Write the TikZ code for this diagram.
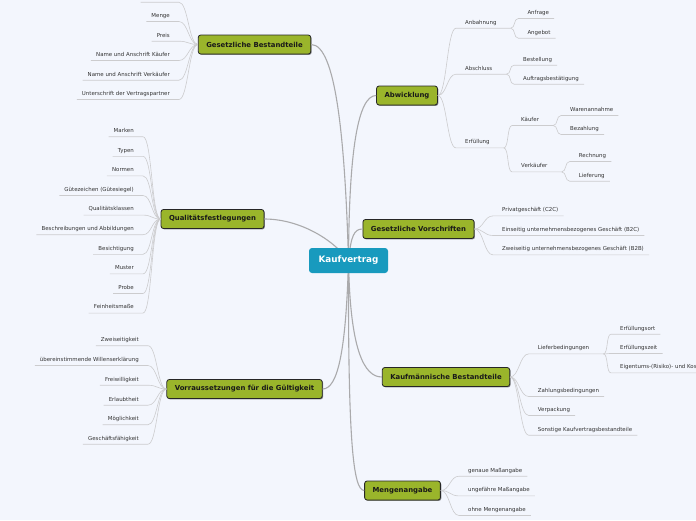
\documentclass[tikz,border=0pt]{standalone}
\usepackage{fontspec}
\setmainfont{DejaVu Sans}
\usetikzlibrary{shadows}
\definecolor{bgc}{RGB}{243,246,253}
\definecolor{mainfill}{RGB}{154,181,43}
\definecolor{centfill}{RGB}{24,154,190}
\definecolor{leaftext}{RGB}{50,50,50}
\definecolor{leafline}{RGB}{204,204,206}
\definecolor{mainline}{RGB}{170,170,172}
\tikzset{
  mainbox/.style={fill=mainfill, draw=black!85, line width=0.8pt, rounded corners=2.5pt,
    font=\fontsize{6.9}{8}\selectfont\bfseries, text=black!90, inner xsep=8pt, inner ysep=0pt,
    minimum height=19pt,
    drop shadow={shadow xshift=0.9pt, shadow yshift=-0.9pt, opacity=0.45, fill=black}},
  centbox/.style={fill=centfill, rounded corners=3pt, text=white,
    font=\fontsize{8.8}{10}\selectfont\bfseries, minimum width=79pt, minimum height=25pt, inner sep=0pt},
  leaf/.style={font=\fontsize{5.45}{6}\selectfont, text=leaftext, inner xsep=5pt, inner ysep=2.5pt,
    text height=4pt, text depth=1.5pt},
  lleaf/.style={leaf, anchor=base east},
  rleaf/.style={leaf, anchor=base west},
  lline/.style={draw=leafline, line width=0.6pt},
  mline/.style={draw=mainline, line width=1.1pt},
}
\newcommand\lconn[2]{\draw[lline] (#1.west) .. controls +(-9,0) and +(9,0) .. ([xshift=4pt]#2.south east) -- (#2.south west);}
\newcommand\rconn[2]{\draw[lline] (#1.east) .. controls +(9,0) and +(-9,0) .. ([xshift=-4pt]#2.south west) -- (#2.south east);}
\newcommand\rmid[2]{\draw[lline] (#1.east) .. controls +(9,0) and +(-9,0) .. ([xshift=-4pt]#2.south west) -- ([xshift=9pt]#2.south east);}
\newcommand\rsub[2]{\draw[lline] ([xshift=9pt]#1.south east) .. controls +(5,0) and +(-5,0) .. ([xshift=-4pt]#2.south west) -- (#2.south east);}
\begin{document}
\begin{tikzpicture}[x=1pt,y=1pt]
\fill[bgc] (0,0) rectangle (696,-520);
\useasboundingbox (0,0) rectangle (696,-520);

% main nodes
\node[mainbox] (gb) at (254.5,-44.5) {Gesetzliche Bestandteile};
\node[mainbox] (ab) at (407,-95.5) {Abwicklung};
\node[mainbox] (qf) at (212.5,-219) {Qualitätsfestlegungen};
\node[mainbox] (gv) at (418.5,-229) {Gesetzliche Vorschriften};
\node[mainbox] (vg) at (244.5,-389) {Vorraussetzungen für die Gültigkeit};
\node[mainbox] (kb) at (446,-377) {Kaufmännische Bestandteile};
\node[mainbox] (ma) at (402.5,-490.5) {Mengenangabe};

% Gesetzliche Bestandteile leaves
\node[lleaf, minimum width=34pt] (gb0) at (175,2) {};
\node[lleaf] (gb1) at (175,-17.3) {Menge};
\node[lleaf] (gb2) at (175,-37) {Preis};
\node[lleaf] (gb3) at (175,-56.3) {Name und Anschrift Käufer};
\node[lleaf] (gb4) at (175,-76) {Name und Anschrift Verkäufer};
\node[lleaf] (gb5) at (175,-95.3) {Unterschrift der Vertragspartner};
\foreach \i in {0,...,5} {\lconn{gb}{gb\i}}

% Qualitaetsfestlegungen leaves
\node[lleaf] (q1) at (139,-132.5) {Marken};
\node[lleaf] (q2) at (139,-152.1) {Typen};
\node[lleaf] (q3) at (139,-171.7) {Normen};
\node[lleaf] (q4) at (139,-191.3) {Gütezeichen (Gütesiegel)};
\node[lleaf] (q5) at (139,-210.9) {Qualitätsklassen};
\node[lleaf] (q6) at (139,-230.5) {Beschreibungen und Abbildungen};
\node[lleaf] (q7) at (139,-250.1) {Besichtigung};
\node[lleaf] (q8) at (139,-269.7) {Muster};
\node[lleaf] (q9) at (139,-289.3) {Probe};
\node[lleaf] (q10) at (139,-308.9) {Feinheitsmaße};
\foreach \i in {1,...,10} {\lconn{qf}{q\i}}

% Voraussetzungen leaves
\node[lleaf] (v1) at (144,-341.5) {Zweiseitigkeit};
\node[lleaf] (v2) at (144,-361.3) {übereinstimmende Willenserklärung};
\node[lleaf] (v3) at (144,-381) {Freiwilligkeit};
\node[lleaf] (v4) at (144,-401) {Erlaubtheit};
\node[lleaf] (v5) at (144,-420.5) {Möglichkeit};
\node[lleaf] (v6) at (144,-440) {Geschäftsfähigkeit};
\foreach \i in {1,...,6} {\lconn{vg}{v\i}}

% Abwicklung
\node[rleaf] (anb) at (460,-24) {Anbahnung};
\node[rleaf] (abs) at (460,-70) {Abschluss};
\node[rleaf] (erf) at (460,-143.7) {Erfüllung};
\rmid{ab}{anb}\rmid{ab}{abs}\rmid{ab}{erf}
\node[rleaf] (anf) at (522.3,-14.3) {Anfrage};
\node[rleaf] (ang) at (522.3,-34) {Angebot};
\rsub{anb}{anf}\rsub{anb}{ang}
\node[rleaf] (bes) at (518,-61) {Bestellung};
\node[rleaf] (auf) at (518,-80) {Auftragsbestätigung};
\rsub{abs}{bes}\rsub{abs}{auf}
\node[rleaf] (kae) at (516,-121.3) {Käufer};
\node[rleaf] (ver) at (516,-167.7) {Verkäufer};
\draw[lline] ([xshift=9pt]erf.south east) .. controls +(5,0) and +(-5,0) .. ([xshift=-4pt]kae.south west) -- ([xshift=9pt]kae.south east);
\draw[lline] ([xshift=9pt]erf.south east) .. controls +(5,0) and +(-5,0) .. ([xshift=-4pt]ver.south west) -- ([xshift=9pt]ver.south east);
\node[rleaf] (war) at (565,-111.3) {Warenannahme};
\node[rleaf] (bez) at (565,-130.3) {Bezahlung};
\rsub{kae}{war}\rsub{kae}{bez}
\node[rleaf] (rec) at (573.7,-157.3) {Rechnung};
\node[rleaf] (lie) at (573.7,-177) {Lieferung};
\rsub{ver}{rec}\rsub{ver}{lie}

% Gesetzliche Vorschriften
\node[rleaf] (g1) at (497,-211.7) {Privatgeschäft (C2C)};
\node[rleaf] (g2) at (497,-231.3) {Einseitig unternehmensbezogenes Geschäft (B2C)};
\node[rleaf] (g3) at (497,-250.7) {Zweiseitig unternehmensbezogenes Geschäft (B2B)};
\rconn{gv}{g1}\rconn{gv}{g2}\rconn{gv}{g3}

% Kaufmaennische Bestandteile
\node[rleaf] (k1) at (532.7,-349.7) {Lieferbedingungen};
\node[rleaf] (k2) at (532.7,-392.3) {Zahlungsbedingungen};
\node[rleaf] (k3) at (532.7,-411.3) {Verpackung};
\node[rleaf] (k4) at (532.7,-431) {Sonstige Kaufvertragsbestandteile};
\rmid{kb}{k1}\rconn{kb}{k2}\rconn{kb}{k3}\rconn{kb}{k4}
\node[rleaf] (l1) at (615,-330) {Erfüllungsort};
\node[rleaf] (l2) at (615,-349.3) {Erfüllungszeit};
\node[rleaf] (l3) at (615,-368.7) {Eigentums-(Risiko)- und Kos};
\rsub{k1}{l1}\rsub{k1}{l2}\rsub{k1}{l3}

% Mengenangabe
\node[rleaf] (m1) at (463,-472) {genaue Maßangabe};
\node[rleaf] (m2) at (463,-491.7) {ungefähre Maßangabe};
\node[rleaf] (m3) at (463,-511.3) {ohne Mengenangabe};
\rconn{ma}{m1}\rconn{ma}{m2}\rconn{ma}{m3}

% central connectors
\coordinate (k) at (348.5,-260.5);
\draw[mline] (k) .. controls (345,-140) and (336,-44.5) .. (gb.east);
\draw[mline] (k) .. controls (349,-150) and (358,-95.5) .. (ab.west);
\draw[mline] (k) .. controls (332,-238) and (298,-219) .. (qf.east);
\draw[mline] (k) .. controls (351,-236) and (354,-229) .. (gv.west);
\draw[mline] (k) .. controls (346,-350) and (338,-389) .. (vg.east);
\draw[mline] (k) .. controls (350,-350) and (364,-377) .. (kb.west);
\draw[mline] (k) .. controls (348,-440) and (353,-490.5) .. (ma.west);
\node[centbox] (kv) at (k) {Kaufvertrag};
\end{tikzpicture}
\end{document}
